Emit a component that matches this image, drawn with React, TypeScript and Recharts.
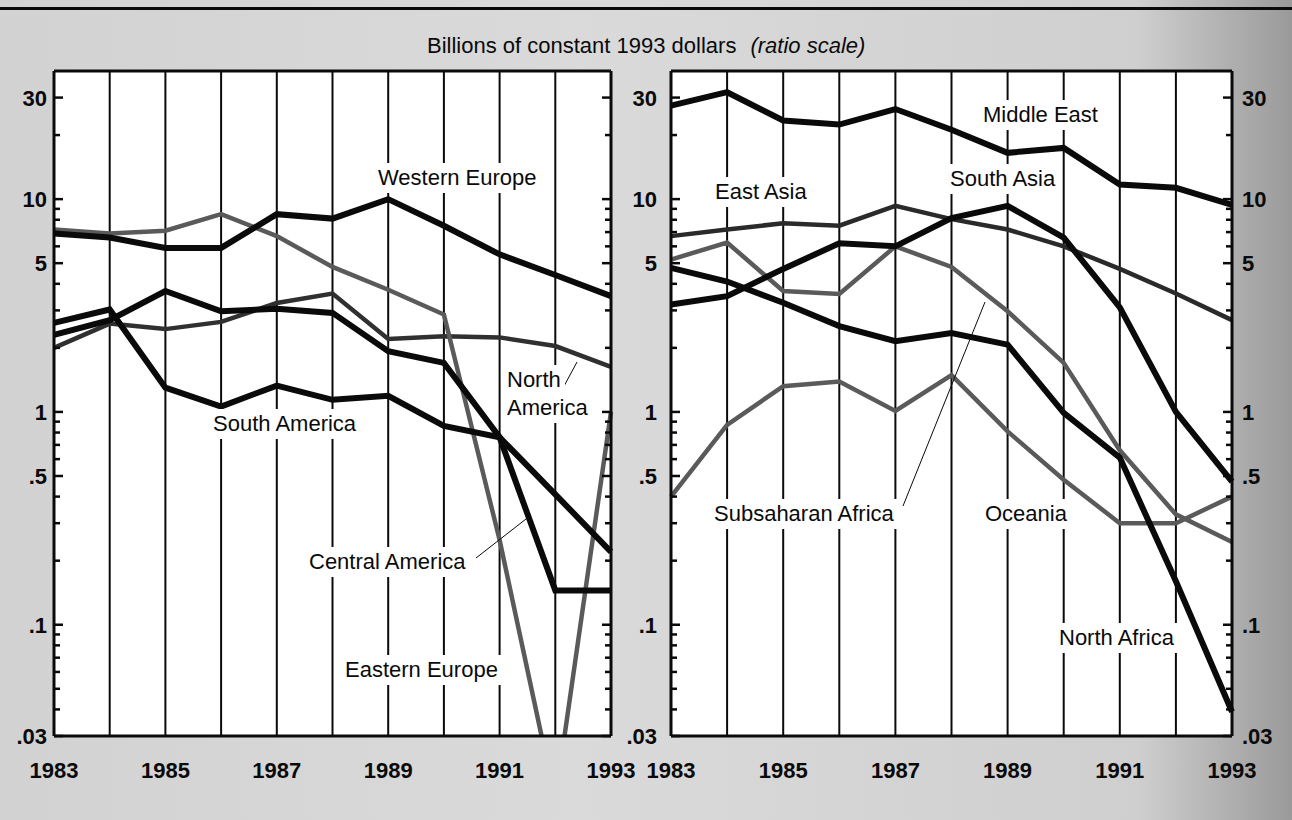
import React from 'react';
import { LineChart, Line, XAxis, YAxis, CartesianGrid } from 'recharts';

const years = [1983, 1984, 1985, 1986, 1987, 1988, 1989, 1990, 1991, 1992, 1993];

// left panel, billions of 1993 dollars
const westernEurope = [6.9, 6.6, 5.9, 5.9, 8.5, 8.1, 10.0, 7.5, 5.5, 4.4, 3.5];
const easternEurope = [7.2, 6.9, 7.1, 8.5, 6.7, 4.8, 3.75, 2.87, 0.25, 0.015, 1.0];
const northAmerica = [2.0, 2.6, 2.45, 2.65, 3.25, 3.6, 2.2, 2.27, 2.24, 2.04, 1.63];
const centralAmerica = [2.3, 2.7, 3.7, 2.97, 3.05, 2.92, 1.93, 1.7, 0.76, 0.145, 0.145];
const southAmerica = [2.62, 3.03, 1.3, 1.06, 1.33, 1.14, 1.19, 0.86, 0.76, 0.41, 0.22];

// right panel
const middleEast = [27.5, 31.8, 23.4, 22.4, 26.5, 21.2, 16.5, 17.4, 11.7, 11.3, 9.4];
const eastAsia = [6.7, 7.2, 7.7, 7.5, 9.3, 8.05, 7.2, 6.0, 4.7, 3.6, 2.7];
const southAsia = [3.2, 3.5, 4.7, 6.2, 6.0, 8.15, 9.3, 6.6, 3.1, 1.0, 0.47];
const northAfrica = [4.75, 4.1, 3.26, 2.53, 2.15, 2.35, 2.07, 0.99, 0.61, 0.16, 0.039];
const subsaharanAfrica = [5.2, 6.25, 3.7, 3.58, 6.0, 4.8, 2.97, 1.7, 0.66, 0.33, 0.245];
const oceania = [0.4, 0.87, 1.32, 1.39, 1.01, 1.49, 0.81, 0.48, 0.3, 0.3, 0.4];

const yTicks = [
  0.03, 0.04, 0.05, 0.06, 0.07, 0.08, 0.09,
  0.1, 0.2, 0.3, 0.4, 0.5, 0.6, 0.7, 0.8, 0.9,
  1, 2, 3, 4, 5, 6, 7, 8, 9,
  10, 20, 30,
];
const yLabels = [0.03, 0.1, 0.5, 1, 5, 10, 30];
const yearLabels = [1983, 1985, 1987, 1989, 1991, 1993];

const leftData = years.map((year, i) => ({
  year,
  we: westernEurope[i],
  ee: easternEurope[i],
  na: northAmerica[i],
  ca: centralAmerica[i],
  sa: southAmerica[i],
}));

const rightData = years.map((year, i) => ({
  year,
  me: middleEast[i],
  ea: eastAsia[i],
  sas: southAsia[i],
  naf: northAfrica[i],
  ssa: subsaharanAfrica[i],
  oc: oceania[i],
}));

const FONT = '"Liberation Sans", Arial, Helvetica, sans-serif';
const BLACK = '#0a0a0a';
const GREY = '#5a5a5a';

// annotation text: left edge and cap-centre in page pixels
const seriesLabels = [
  { text: 'Western Europe', x: 378, y: 178 },
  { text: 'North', x: 507, y: 380 },
  { text: 'America', x: 507, y: 408 },
  { text: 'South America', x: 213, y: 424 },
  { text: 'Central America', x: 309, y: 562 },
  { text: 'Eastern Europe', x: 345, y: 670 },
  { text: 'Middle East', x: 983, y: 115 },
  { text: 'South Asia', x: 950, y: 179 },
  { text: 'East Asia', x: 715, y: 192 },
  { text: 'Subsaharan Africa', x: 714, y: 514 },
  { text: 'Oceania', x: 985, y: 514 },
  { text: 'North Africa', x: 1059, y: 638 },
];

const pointers = [
  [563, 388, 577, 362],
  [476, 558, 526, 519],
  [903, 506, 985, 302],
];

const fmt = (v: number) => (v < 1 ? String(v).replace(/^0/, '') : String(v));

const YTick = ({ x, y, payload, side, label, gap }: any) => {
  const v = payload.value;
  const major = yLabels.includes(v);
  const dir = side === 'left' ? 1 : -1;
  const len = major ? 9 : 6;
  return (
    <g>
      <line x1={x} x2={x + dir * len} y1={y} y2={y} stroke={BLACK} strokeWidth={2.5} />
      {label && major && (
        <text
          x={x - dir * gap}
          y={y + 8}
          textAnchor={side === 'left' ? 'end' : 'start'}
          fontFamily={FONT}
          fontSize={22}
          fontWeight="bold"
          fill={BLACK}
        >
          {fmt(v)}
        </text>
      )}
    </g>
  );
};

const YearTick = ({ x, y, payload }: any) => {
  if (!yearLabels.includes(payload.value)) return <g />;
  return (
    <text x={x} y={y + 42} textAnchor="middle" fontFamily={FONT} fontSize={22} fontWeight="bold" fill={BLACK}>
      {payload.value}
    </text>
  );
};

const axisLine = { stroke: BLACK, strokeWidth: 3 };

const Frame = (leftLabelGap: number, rightLabelGap: number | null) => [
  <CartesianGrid key="grid" horizontal={false} stroke={BLACK} strokeWidth={2} fill="#fff" fillOpacity={1} />,
  <XAxis
    key="xb"
    dataKey="year"
    type="number"
    domain={[1983, 1993]}
    ticks={years}
    interval={0}
    height={1}
    tickSize={0}
    tickMargin={0}
    tickLine={false}
    axisLine={axisLine}
    tick={(p: any) => <YearTick {...p} />}
  />,
  <XAxis
    key="xt"
    xAxisId="top"
    orientation="top"
    dataKey="year"
    type="number"
    domain={[1983, 1993]}
    height={1}
    tick={false}
    tickLine={false}
    axisLine={axisLine}
  />,
  <YAxis
    key="yl"
    scale="log"
    type="number"
    domain={[0.03, 40]}
    allowDataOverflow
    ticks={yTicks}
    interval={0}
    width={1}
    tickSize={0}
    tickMargin={0}
    tickLine={false}
    axisLine={axisLine}
    tick={(p: any) => <YTick {...p} side="left" label gap={leftLabelGap} />}
  />,
  <YAxis
    key="yr"
    yAxisId="r"
    orientation="right"
    scale="log"
    type="number"
    domain={[0.03, 40]}
    allowDataOverflow
    ticks={yTicks}
    interval={0}
    width={1}
    tickSize={0}
    tickMargin={0}
    tickLine={false}
    axisLine={axisLine}
    tick={(p: any) => <YTick {...p} side="right" label={rightLabelGap !== null} gap={rightLabelGap ?? 0} />}
  />,
];

const series = (key: string, color: string, width: number) => (
  <Line
    key={key}
    dataKey={key}
    type="linear"
    stroke={color}
    strokeWidth={width}
    dot={false}
    activeDot={false}
    isAnimationActive={false}
  />
);

export default function App() {
  return (
    <div
      style={{
        position: 'absolute',
        left: 0,
        top: 0,
        width: 1292,
        height: 820,
        overflow: 'hidden',
        background: 'linear-gradient(90deg, #d2d2d2 0%, #dadada 45%, #cfcfcf 88%, #9a9a9a 100%)',
        fontFamily: FONT,
      }}
    >
      <div style={{ position: 'absolute', left: 0, top: 0 }}>
        <LineChart width={640} height={820} data={leftData} margin={{ top: 70, right: 28, bottom: 83, left: 53 }}>
          {Frame(7, null)}
          {series('na', '#303030', 4.5)}
          {series('ee', GREY, 4.5)}
          {series('we', BLACK, 6)}
          {series('ca', BLACK, 6)}
          {series('sa', BLACK, 6)}
        </LineChart>
      </div>
      <div style={{ position: 'absolute', left: 600, top: 0 }}>
        <LineChart width={692} height={820} data={rightData} margin={{ top: 70, right: 59, bottom: 83, left: 70 }}>
          {Frame(14, 10)}
          {series('ea', '#2a2a2a', 4.5)}
          {series('ssa', GREY, 4.5)}
          {series('oc', GREY, 4.5)}
          {series('me', BLACK, 6)}
          {series('sas', BLACK, 6)}
          {series('naf', BLACK, 6)}
        </LineChart>
      </div>

      <svg width={1292} height={820} style={{ position: 'absolute', left: 0, top: 0, pointerEvents: 'none' }}>
        <rect x={0} y={7} width={1292} height={3} fill={BLACK} />
        <text x={427} y={53} fontFamily={FONT} fontSize={22} fill={BLACK}>
          Billions of constant 1993 dollars
          <tspan dx={14} fontStyle="italic">(ratio scale)</tspan>
        </text>
        {pointers.map(([x1, y1, x2, y2], i) => (
          <line key={i} x1={x1} y1={y1} x2={x2} y2={y2} stroke={BLACK} strokeWidth={1} />
        ))}
      </svg>

      {seriesLabels.map((l) => (
        <div
          key={l.text}
          style={{
            position: 'absolute',
            left: l.x - 4,
            top: l.y - 15,
            height: 30,
            lineHeight: '30px',
            padding: '0 4px',
            background: '#fff',
            fontSize: 22,
            color: BLACK,
            whiteSpace: 'nowrap',
          }}
        >
          {l.text}
        </div>
      ))}
    </div>
  );
}
